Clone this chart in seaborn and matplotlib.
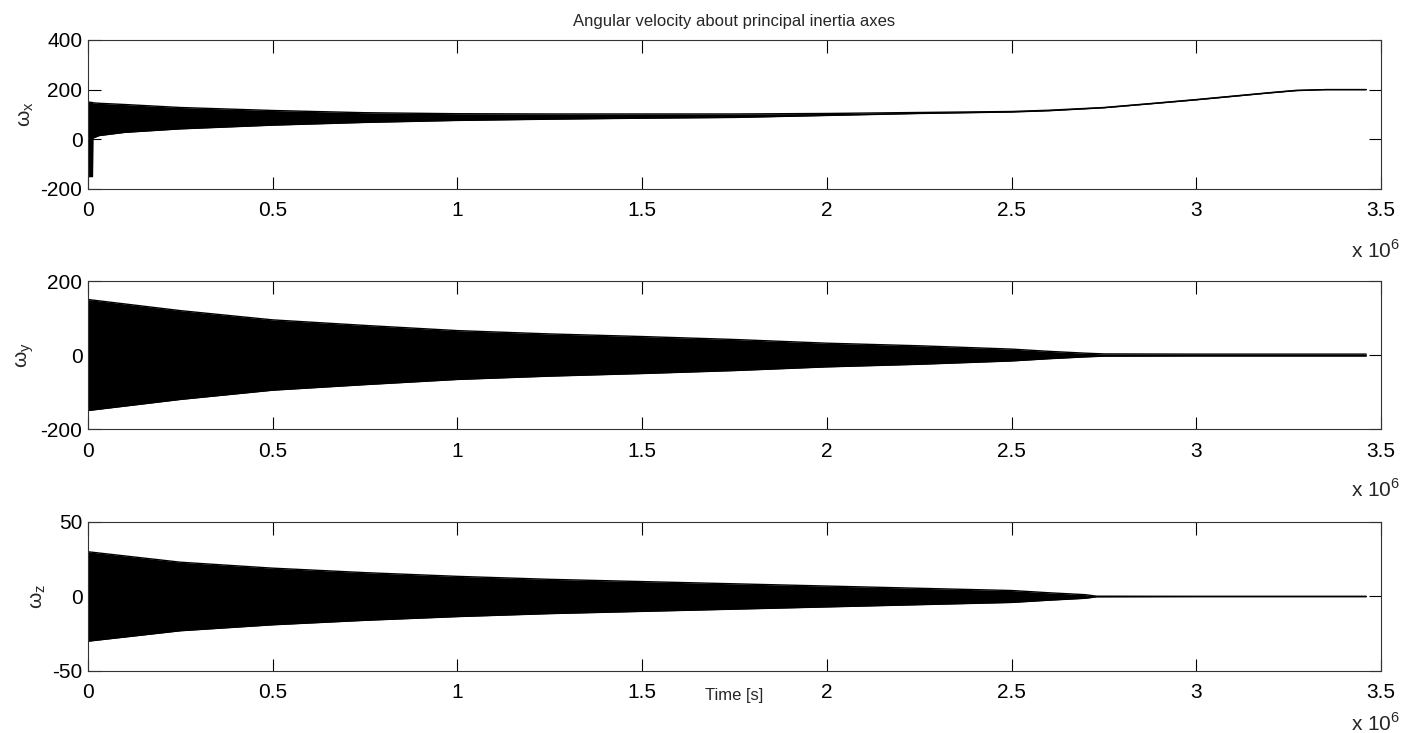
import numpy as np
import matplotlib
matplotlib.use('Agg')
import matplotlib.pyplot as plt
import seaborn as sns

# Time in units of 1e6 s, envelopes
t_x = [0.0, 0.012, 0.013, 0.03, 0.1, 0.25, 0.5, 0.75, 1.0, 1.25, 1.5, 1.75, 2.0, 2.25, 2.5, 2.6, 2.75, 2.9, 3.0, 3.1, 3.2, 3.27, 3.35, 3.46]
wx_upper = [150, 148, 147, 145, 140, 128, 116, 107, 103, 102, 102, 102, 104, 108, 112, 117, 128, 147, 160, 174, 188, 197, 200, 200]
wx_lower = [-150, -150, 5, 15, 28, 42, 57, 68, 76, 81, 85, 88, 96, 104, 110, 115, 127, 146, 159, 173, 187, 196, 200, 200]

t_y = [0.0, 0.25, 0.5, 0.75, 1.0, 1.25, 1.5, 1.75, 2.0, 2.25, 2.5, 2.6, 2.7, 2.75, 3.0, 3.25, 3.46]
wy_amp = [150, 120, 95, 80, 66, 57, 50, 42, 32, 25, 16, 10, 5, 3, 2.5, 2.5, 2.5]

t_z = [0.0, 0.25, 0.5, 0.75, 1.0, 1.25, 1.5, 1.75, 2.0, 2.25, 2.5, 2.6, 2.7, 2.73, 3.0, 3.46]
wz_amp = [30, 23, 19, 16, 13.5, 11.5, 10, 8.5, 7, 5.5, 4, 2.5, 1.2, 0.2, 0.1, 0.1]

x_ticks = [0, 0.5, 1, 1.5, 2, 2.5, 3, 3.5]
x_tick_labels = ['0', '0.5', '1', '1.5', '2', '2.5', '3', '3.5']
y_limits = [(-200, 400), (-200, 200), (-50, 50)]
y_ticks = [[-200, 0, 200, 400], [-200, 0, 200], [-50, 0, 50]]
y_labels = ['ω$_{\\rm x}$', 'ω$_{\\rm y}$', 'ω$_{\\rm z}$']

sns.set_theme(style="ticks")
plt.rcParams['font.family'] = ['Liberation Sans', 'DejaVu Sans']
plt.rcParams['mathtext.fontset'] = 'custom'
plt.rcParams['mathtext.rm'] = 'Liberation Sans'
plt.rcParams['axes.unicode_minus'] = False

fig = plt.figure(figsize=(14.06, 7.33), dpi=100)
positions = [[0.0626, 0.7422, 0.9196, 0.2033],
             [0.0626, 0.4147, 0.9196, 0.2019],
             [0.0626, 0.0846, 0.9196, 0.2033]]
axes = [fig.add_axes(p) for p in positions]

# envelopes of the fast oscillation
series = [
    (t_x, wx_upper, wx_lower),
    (t_y, wy_amp, [-a for a in wy_amp]),
    (t_z, wz_amp, [-a for a in wz_amp]),
]
offset_y = [-0.41, -0.41, -0.35]

for i, (ax, (t, up, lo)) in enumerate(zip(axes, series)):
    ax.fill_between(t, lo, up, color='black', linewidth=0)
    sns.lineplot(x=t, y=up, ax=ax, color='black', linewidth=1, estimator=None, sort=False)
    sns.lineplot(x=t, y=lo, ax=ax, color='black', linewidth=1, estimator=None, sort=False)

    ax.set_xlim(0, 3.5)
    ax.set_ylim(*y_limits[i])
    ax.set_xticks(x_ticks)
    ax.set_xticklabels(x_tick_labels)
    ax.set_yticks(y_ticks[i])
    ax.tick_params(direction='in', length=9, width=0.8, top=True, right=True,
                   labelsize=15, colors='black')
    ax.tick_params(axis='x', pad=9)
    ax.tick_params(axis='y', pad=4)
    for s in ax.spines.values():
        s.set_color('#333333')
        s.set_linewidth(0.8)
    ax.set_ylabel(y_labels[i], fontsize=15, labelpad=3)
    ax.text(1.015, offset_y[i], 'x 10$^{\\rm 6}$', transform=ax.transAxes,
            ha='right', va='center', fontsize=15)

axes[0].set_title('Angular velocity about principal inertia axes', fontsize=12, pad=10)
axes[2].set_xlabel('Time [s]', fontsize=12)
axes[2].xaxis.set_label_coords(0.5, -0.115)

fig.savefig('out.png', dpi=100)
